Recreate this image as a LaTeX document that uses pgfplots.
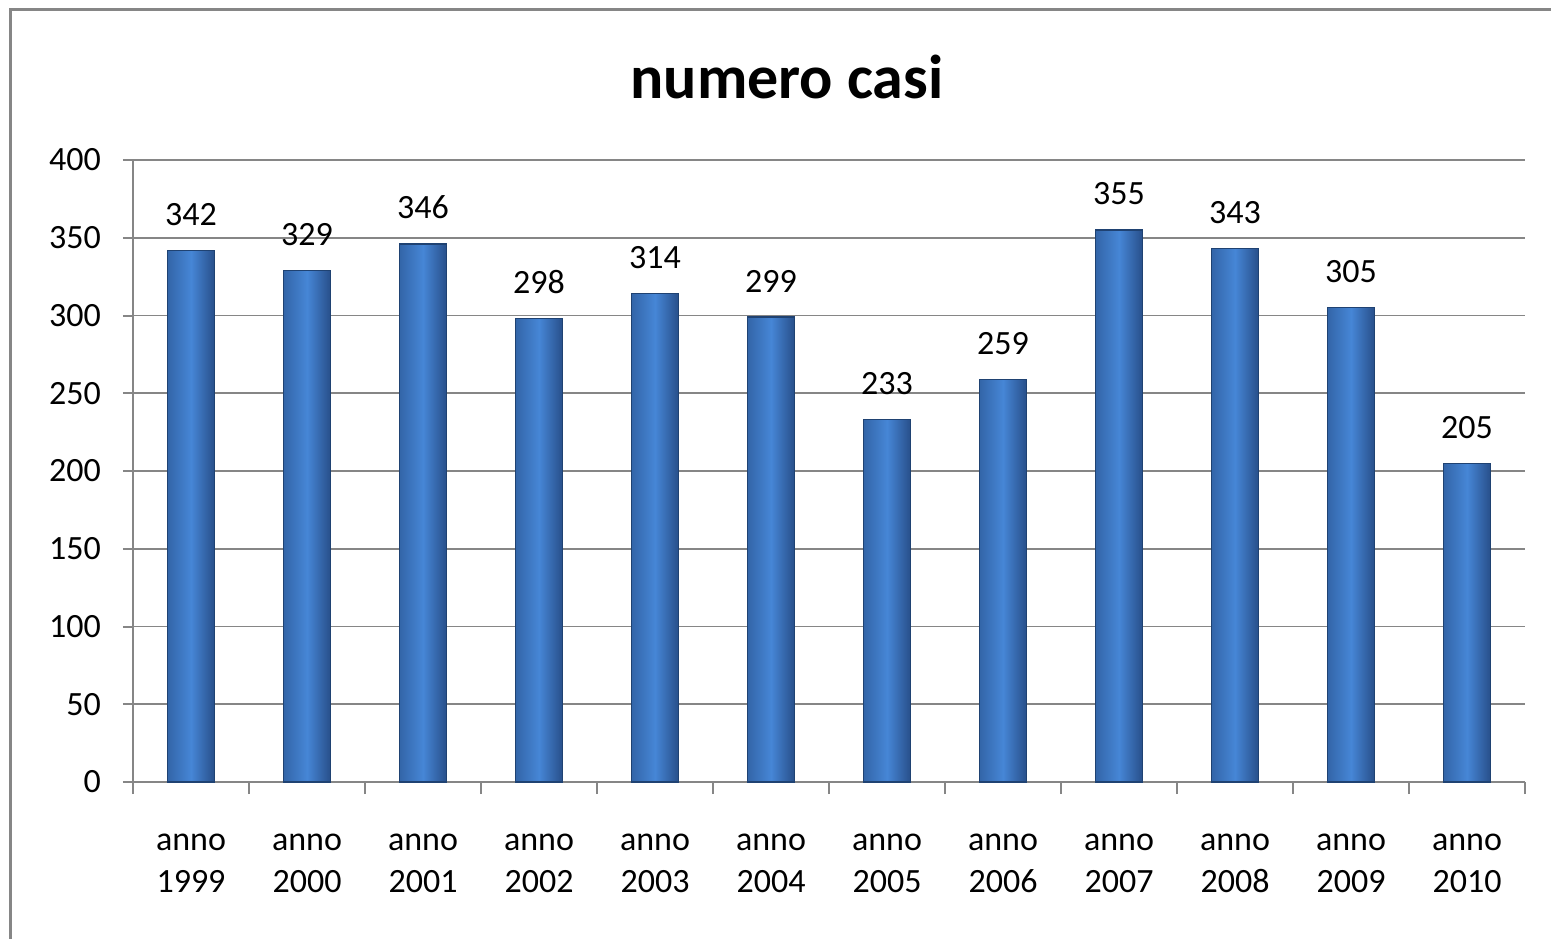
\documentclass[border=0pt]{standalone}
\usepackage{pgfplots}
\pgfplotsset{compat=1.18}
\usepackage{fontspec}
\setmainfont{Carlito}
\definecolor{gridgray}{HTML}{868686}
\definecolor{barmid}{HTML}{4686D6}
\definecolor{barleft}{HTML}{3365A8}
\definecolor{barright}{HTML}{284F8A}
\definecolor{baredge}{HTML}{1F4272}
\pgfplotsset{
  onebar/.style={draw=baredge,line width=0.6pt,left color=barleft,right color=barright,middle color=barmid,
    bar shift=0pt},
}
\begin{document}
\begin{tikzpicture}
\useasboundingbox (0,0) rectangle (775.5pt,469pt);
\draw[gridgray,line width=1.5pt] (5.25pt,-10pt) -- (5.25pt,464.25pt) -- (790pt,464.25pt);
\node[anchor=base,font=\fontsize{31}{36}\selectfont\bfseries] at (393.5pt,419.5pt) {numero casi};
\begin{axis}[
  at={(66.5pt,78pt)}, anchor=south west,
  scale only axis, width=696pt, height=311pt,
  xmin=-0.5, xmax=11.5, ymin=0, ymax=400,
  axis x line*=bottom, axis y line*=left,
  axis line style={gridgray,line width=1pt},
  ytick={0,50,...,400},
  ymajorgrids, grid style={gridgray,line width=0.9pt},
  tick align=outside, tick pos=lower,
  major tick length=5pt,
  tick style={gridgray,line width=1pt},
  xtick={0,...,11},
  major x tick style={draw=none},
  minor x tick style={draw=gridgray,line width=1pt},
  minor xtick={-0.5,0.5,...,11.5},
  minor tick length=6pt,
  xticklabels={{anno\\1999},{anno\\2000},{anno\\2001},{anno\\2002},{anno\\2003},{anno\\2004},{anno\\2005},{anno\\2006},{anno\\2007},{anno\\2008},{anno\\2009},{anno\\2010}},
  xticklabel style={align=center,font=\fontsize{17}{21}\selectfont,yshift=-17.5pt},
  yticklabel style={font=\fontsize{17}{21}\selectfont,xshift=-7.5pt},
  /pgf/number format/assume math mode=true,
  ybar, bar width=23.5pt,
  nodes near coords,
  every node near coord/.append style={font=\fontsize{17}{21}\selectfont,anchor=base,yshift=12.5pt,black},
  clip=false,
]
\addplot[onebar] coordinates {(0,342)};
\addplot[onebar] coordinates {(1,329)};
\addplot[onebar] coordinates {(2,346)};
\addplot[onebar] coordinates {(3,298)};
\addplot[onebar] coordinates {(4,314)};
\addplot[onebar] coordinates {(5,299)};
\addplot[onebar] coordinates {(6,233)};
\addplot[onebar] coordinates {(7,259)};
\addplot[onebar] coordinates {(8,355)};
\addplot[onebar] coordinates {(9,343)};
\addplot[onebar] coordinates {(10,305)};
\addplot[onebar] coordinates {(11,205)};
\end{axis}
\end{tikzpicture}
\end{document}
